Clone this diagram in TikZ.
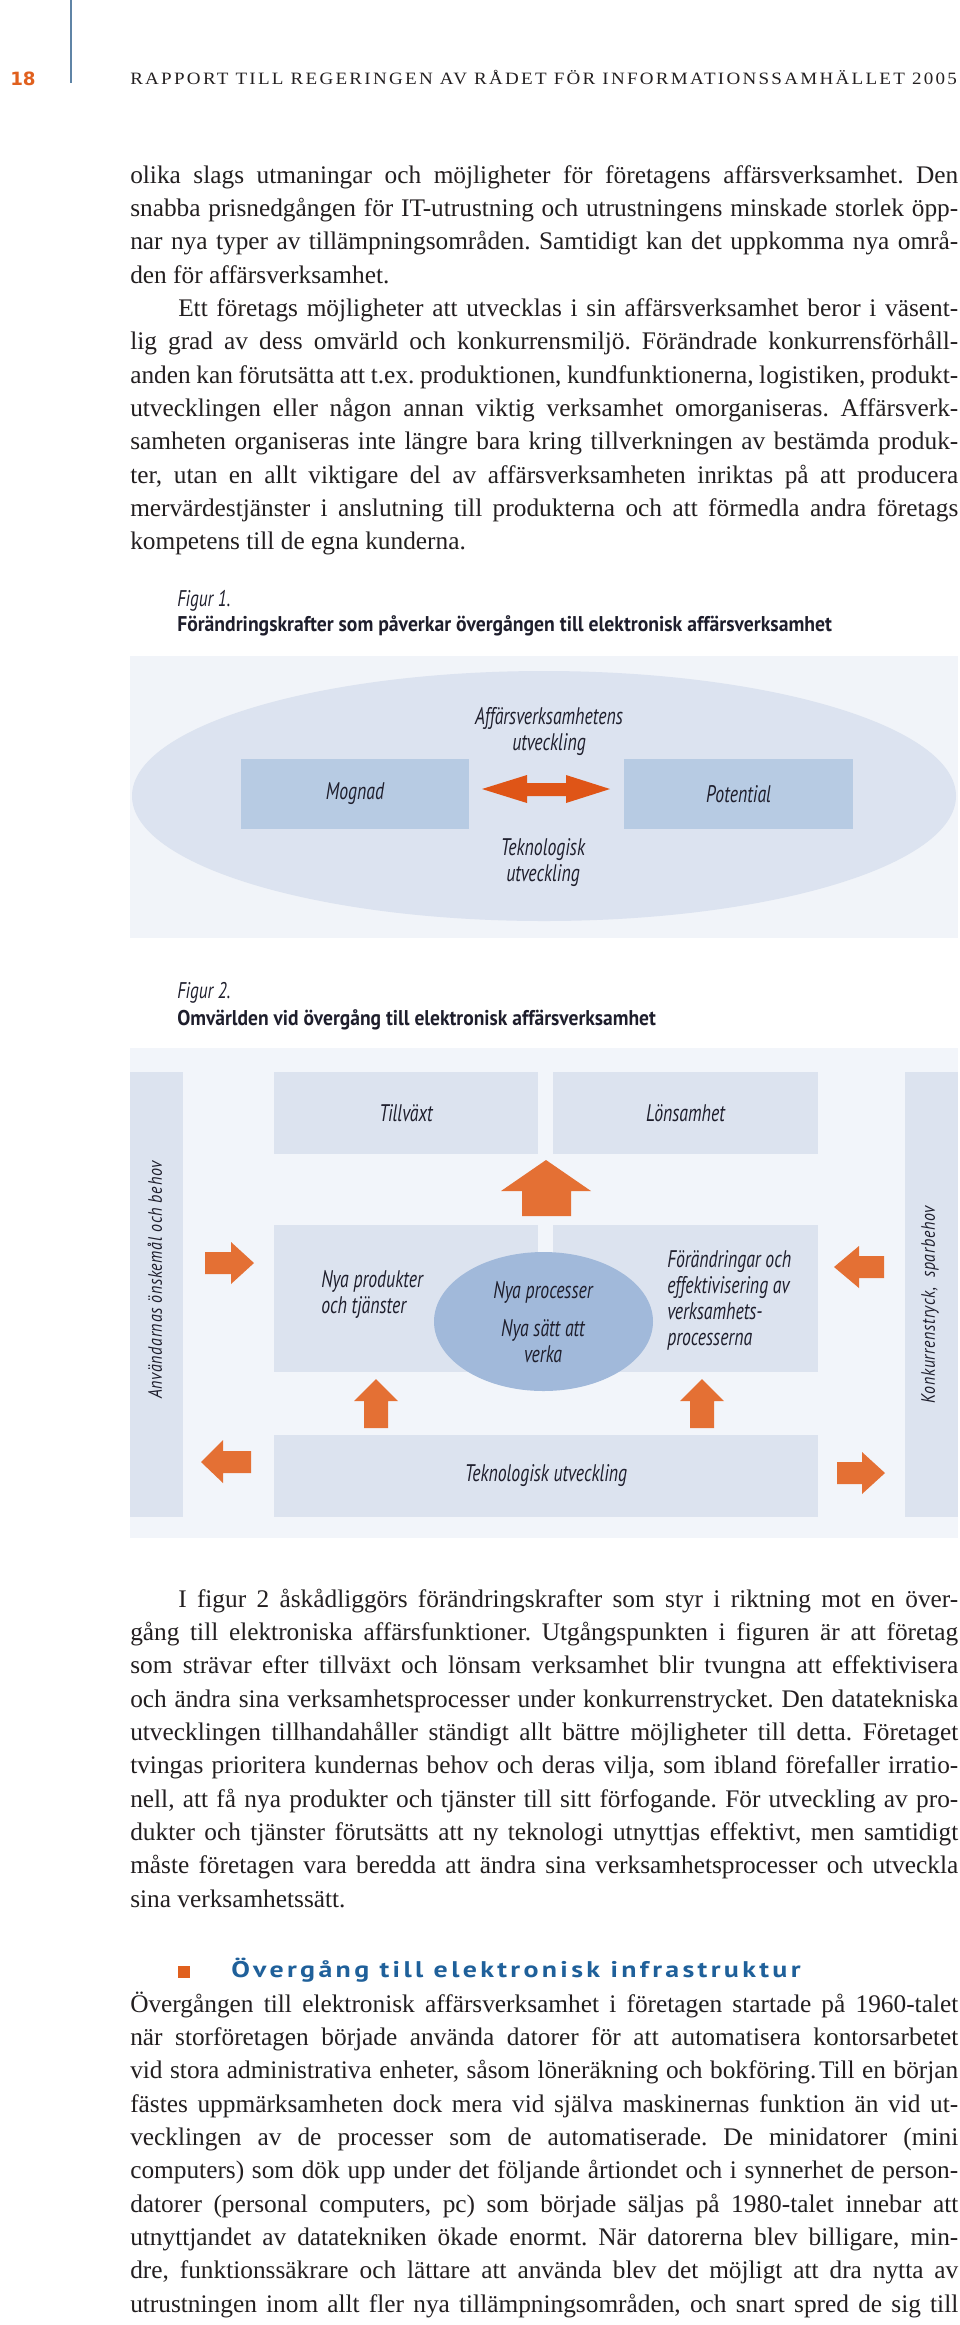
\documentclass[tikz,border=0pt]{standalone}
\usepackage{fontspec}
\usetikzlibrary{shapes.geometric}
\setmainfont{Liberation Serif}
\newfontfamily\hdrfont{Liberation Serif}[LetterSpace=12]
\newfontfamily\numfont{DejaVu Sans}
\newfontfamily\figfont{PT Sans}[FakeStretch=0.74]
\newfontfamily\capfont{PT Sans}[FakeStretch=0.76]
\newfontfamily\headfont{PT Sans}[LetterSpace=12]
\newfontfamily\sidefont{PT Sans}[LetterSpace=4]
\definecolor{bodytext}{HTML}{231F20}
\definecolor{pagenum}{HTML}{E0601E}
\definecolor{rulecol}{HTML}{5F84A6}
\definecolor{figbg}{HTML}{F1F4F9}
\definecolor{figbgb}{HTML}{F2F5FA}
\definecolor{ellcol}{HTML}{DCE3F0}
\definecolor{boxdark}{HTML}{B7CBE3}
\definecolor{boxlight}{HTML}{DCE3EF}
\definecolor{circcol}{HTML}{A1B9DA}
\definecolor{arrowred}{HTML}{DF5517}
\definecolor{arroworange}{HTML}{E47034}
\definecolor{headblue}{HTML}{1F609A}
\definecolor{figtext}{HTML}{1E1E2C}
\newcommand\jl[1]{\hbox to 621pt{#1}}
\newcommand\lastline[1]{\hbox to 621pt{#1\hfil}}
\newcommand\ctr[1]{\vtop{\halign{\hfil##\hfil\cr#1\crcr}}}
\newcommand\lft[1]{\vtop{\halign{##\hfil\cr#1\crcr}}}
\begin{document}
\begin{tikzpicture}[x=0.75pt,y=-0.75pt,
  rect/.style={draw=none, inner sep=0pt, outer sep=0pt, rectangle},
  figlabel/.style={font=\figfont\itshape\fontsize{18}{19.5}\selectfont, text=figtext, inner sep=0pt},
  blockred/.style={fill=arrowred, draw=none},
  blockor/.style={fill=arroworange, draw=none},
  body/.style={anchor=base west, inner sep=0pt, text=bodytext, font=\fontsize{19}{25}\selectfont\frenchspacing}]
\useasboundingbox (0,0) rectangle (960,2325);

% ---------- header ----------
\draw[rulecol, line width=0.9pt] (71,0) -- (71,83);
\node[anchor=base west, inner sep=0pt, text=pagenum, font=\numfont\bfseries\fontsize{13.7}{15}\selectfont] (pnum) at (10,85) {18};
\node[anchor=base west, inner sep=0pt, text=bodytext] (hdr) at (130,84) {\resizebox{620pt}{\height}{\hdrfont\fontsize{13}{15}\selectfont RAPPORT TILL REGERINGEN AV RÅDET FÖR INFORMATIONSSAMHÄLLET 2005}};

% ---------- paragraph A ----------
\node[body] (paraA) at (130,183) {\vtop{%
\jl{olika slags utmaningar och möjligheter för företagens affärsverksamhet. Den}
\jl{snabba prisnedgången för IT-utrustning och utrustningens minskade storlek öpp-}
\jl{nar nya typer av tillämpningsområden. Samtidigt kan det uppkomma nya områ-}
\lastline{den för affärsverksamhet.}
\jl{\hskip36pt Ett företags möjligheter att utvecklas i sin affärsverksamhet beror i väsent-}
\jl{lig grad av dess omvärld och konkurrensmiljö. Förändrade konkurrensförhåll-}
\jl{anden kan förutsätta att t.ex. produktionen, kundfunktionerna, logistiken, produkt-}
\jl{utvecklingen eller någon annan viktig verksamhet omorganiseras. Affärsverk-}
\jl{samheten organiseras inte längre bara kring tillverkningen av bestämda produk-}
\jl{ter, utan en allt viktigare del av affärsverksamheten inriktas på att producera}
\jl{mervärdestjänster i anslutning till produkterna och att förmedla andra företags}
\lastline{kompetens till de egna kunderna.}}};

% ---------- figure 1 ----------
\node[anchor=base west, inner sep=0pt, text=figtext, font=\capfont\itshape\fontsize{17}{18}\selectfont] (fig1lab) at (177,606) {Figur 1.};
\node[anchor=base west, inner sep=0pt, text=figtext] (fig1title) at (177,631) {\resizebox{491pt}{\height}{\capfont\bfseries\fontsize{16}{17}\selectfont Förändringskrafter som påverkar övergången till elektronisk affärsverksamhet}};
\node[rect, fill=figbg, minimum width=621pt, minimum height=211.5pt] (bg1) at (544,797) {};
\node[ellipse, fill=ellcol, draw=none, inner sep=0pt, minimum width=618pt, minimum height=187.5pt] (ell1) at (544,796) {};
\node[rect, fill=boxdark, minimum width=171pt, minimum height=52.5pt, figlabel] (mognad) at (355,794) {Mognad};
\node[rect, fill=boxdark, minimum width=171.75pt, minimum height=52.5pt, figlabel] (potential) at (738.5,794) {Potential};
\fill[blockred] (482,789) -- (527,775) -- (527,783) -- (566,783) -- (566,775) -- (610,789) -- (566,803) -- (566,796) -- (527,796) -- (527,803) -- cycle;
\node[figlabel, anchor=base] (affut) at (549,724) {\ctr{Affärsverksamhetens\cr utveckling}};
\node[figlabel, anchor=base] (tekut) at (543,855) {\ctr{Teknologisk\cr utveckling}};

% ---------- figure 2 ----------
\node[anchor=base west, inner sep=0pt, text=figtext, font=\capfont\itshape\fontsize{17}{18}\selectfont] (fig2lab) at (177,998) {Figur 2.};
\node[anchor=base west, inner sep=0pt, text=figtext] (fig2title) at (177,1025) {\resizebox{359pt}{\height}{\capfont\bfseries\fontsize{16}{17}\selectfont Omvärlden vid övergång till elektronisk affärsverksamhet}};
\node[rect, fill=figbgb, minimum width=621pt, minimum height=367.5pt] (bg2) at (544,1293) {};
\node[rect, fill=boxlight, minimum width=39.75pt, minimum height=333.75pt] (lbar) at (156.5,1294.5) {};
\node[rect, fill=boxlight, minimum width=39.75pt, minimum height=333.75pt] (rbar) at (931.5,1294.5) {};
\node[rect, fill=boxlight, minimum width=198pt, minimum height=61.5pt, figlabel] (tillvaxt) at (406,1113) {Tillväxt};
\node[rect, fill=boxlight, minimum width=198.75pt, minimum height=61.5pt, figlabel] (lonsamhet) at (685.5,1113) {Lönsamhet};
\node[rect, fill=boxlight, minimum width=198pt, minimum height=110.25pt] (nyaprod) at (406,1298.5) {};
\node[rect, fill=boxlight, minimum width=198.75pt, minimum height=110.25pt] (forandr) at (685.5,1298.5) {};
\node[ellipse, fill=circcol, draw=none, inner sep=0pt, minimum width=164.25pt, minimum height=104.25pt] (nyaproc) at (543.5,1321.5) {};
\node[rect, fill=boxlight, minimum width=408pt, minimum height=61.5pt, figlabel] (tekn) at (546,1476) {Teknologisk utveckling};
\node[figlabel, anchor=base west] (nyaprodt) at (321,1287) {\lft{Nya produkter\cr och tjänster}};
\node[figlabel, anchor=base west] (forandrt) at (667,1267) {\lft{Förändringar och\cr effektivisering av\cr verksamhets-\cr processerna}};
\node[figlabel, anchor=base] (proct) at (543,1298) {Nya processer};
\node[figlabel, anchor=base] (sattt) at (543,1336) {\ctr{Nya sätt att\cr verka}};
\node[rotate=90, inner sep=0pt, text=figtext] (anv) at (155,1280) {\resizebox{178pt}{\height}{\sidefont\itshape\fontsize{14.5}{16}\selectfont Användarnas önskemål och behov}};
\node[rotate=90, inner sep=0pt, text=figtext] (konk) at (930,1305) {\resizebox{148pt}{\height}{\sidefont\itshape\fontsize{14.5}{16}\selectfont Konkurrenstryck,\ \ sparbehov}};
% block arrows
\fill[blockor] (546,1160) -- (591,1191) -- (571,1191) -- (571,1216) -- (522,1216) -- (522,1191) -- (501,1191) -- cycle;
\fill[blockor] (254,1263) -- (231,1284) -- (231,1274) -- (205,1274) -- (205,1252) -- (231,1252) -- (231,1242) -- cycle;
\fill[blockor] (834,1267) -- (859,1246) -- (859,1256) -- (884,1256) -- (884,1278) -- (859,1278) -- (859,1288) -- cycle;
\fill[blockor] (201,1462) -- (223,1440) -- (223,1451) -- (251,1451) -- (251,1473) -- (223,1473) -- (223,1483) -- cycle;
\fill[blockor] (885,1473) -- (862,1452) -- (862,1462) -- (837,1462) -- (837,1484) -- (862,1484) -- (862,1494) -- cycle;
\fill[blockor] (376,1379) -- (398,1401) -- (388,1401) -- (388,1428) -- (364,1428) -- (364,1401) -- (354,1401) -- cycle;
\fill[blockor] (702,1379) -- (724,1401) -- (714,1401) -- (714,1428) -- (690,1428) -- (690,1401) -- (680,1401) -- cycle;

% ---------- paragraph B ----------
\node[body] (paraB) at (130,1607) {\vtop{%
\jl{\hskip36pt I figur 2 åskådliggörs förändringskrafter som styr i riktning mot en över-}
\jl{gång till elektroniska affärsfunktioner. Utgångspunkten i figuren är att företag}
\jl{som strävar efter tillväxt och lönsam verksamhet blir tvungna att effektivisera}
\jl{och ändra sina verksamhetsprocesser under konkurrenstrycket. Den datatekniska}
\jl{utvecklingen tillhandahåller ständigt allt bättre möjligheter till detta. Företaget}
\jl{tvingas prioritera kundernas behov och deras vilja, som ibland förefaller irratio-}
\jl{nell, att få nya produkter och tjänster till sitt förfogande. För utveckling av pro-}
\jl{dukter och tjänster förutsätts att ny teknologi utnyttjas effektivt, men samtidigt}
\jl{måste företagen vara beredda att ändra sina verksamhetsprocesser och utveckla}
\lastline{sina verksamhetssätt.}}};

% ---------- section heading ----------
\fill[pagenum] (178,1966) rectangle (190,1978);
\node[anchor=base west, inner sep=0pt, text=headblue] (head) at (231,1977) {\resizebox{427pt}{\height}{\headfont\bfseries\fontsize{17}{19}\selectfont Övergång till elektronisk infrastruktur}};

% ---------- paragraph C ----------
\node[body] (paraC) at (130,2012) {\vtop{%
\jl{Övergången till elektronisk affärsverksamhet i företagen startade på 1960-talet}
\jl{när storföretagen började använda datorer för att automatisera kontorsarbetet}
\jl{vid stora administrativa enheter, såsom löneräkning och bokföring.\kern2pt Till en början}
\jl{fästes uppmärksamheten dock mera vid själva maskinernas funktion än vid ut-}
\jl{vecklingen av de processer som de automatiserade. De minidatorer (mini}
\jl{computers) som dök upp under det följande årtiondet och i synnerhet de person-}
\jl{datorer (personal computers, pc) som började säljas på 1980-talet innebar att}
\jl{utnyttjandet av datatekniken ökade enormt. När datorerna blev billigare, min-}
\jl{dre, funktionssäkrare och lättare att använda blev det möjligt att dra nytta av}
\jl{utrustningen inom allt fler nya tillämpningsområden, och snart spred de sig till}}};
\end{tikzpicture}
\end{document}
